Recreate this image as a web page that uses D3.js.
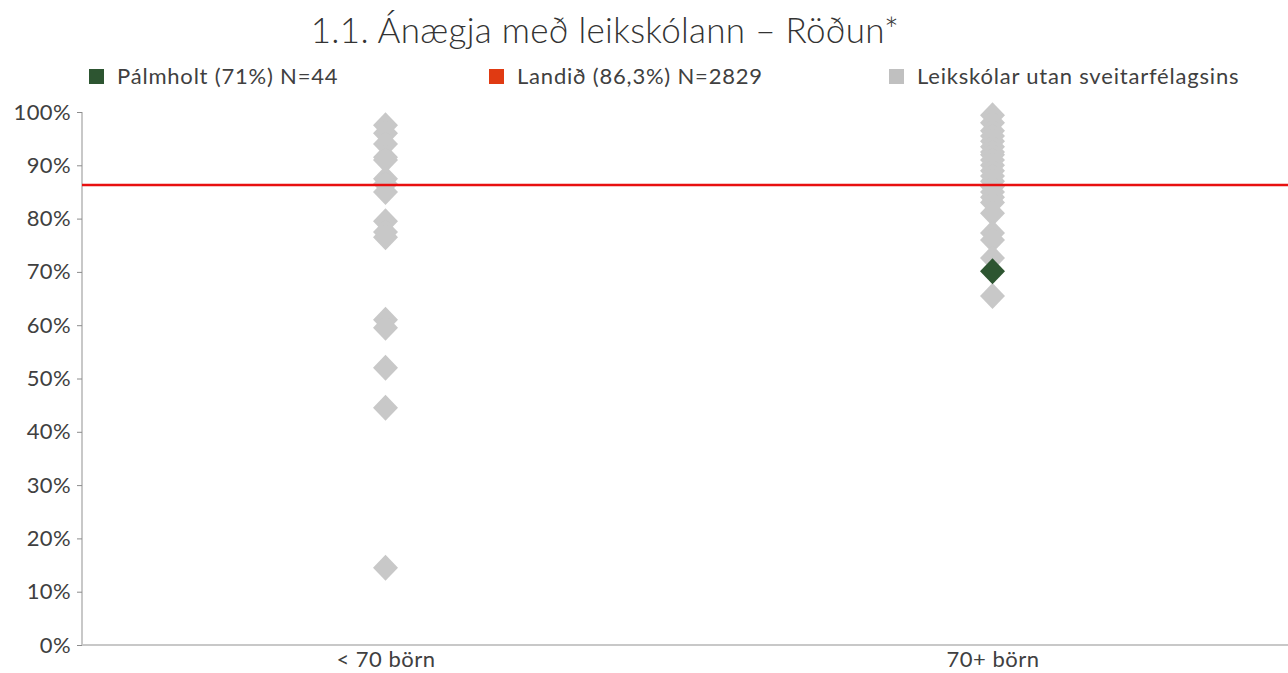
<!DOCTYPE html>
<html><head><meta charset="utf-8">
<script src="https://cdn.jsdelivr.net/npm/d3@7"></script>
<style>
html,body{margin:0;padding:0;background:#fff;}
text{font-family:Lato,"Open Sans",sans-serif;font-weight:400;}
</style></head>
<body><svg id="c" width="1288" height="673"></svg>
<script>
const title = "1.1. Ánægja með leikskólann – Röðun*";
const categories = ["< 70 börn", "70+ börn"];
const yTicks = [0,10,20,30,40,50,60,70,80,90,100];
const otherSmall = [97.5, 96, 94, 91.5, 91, 87.5, 86.5, 85, 79.5, 77.5, 76.5, 61, 59.5, 52, 44.5, 14.5];
const otherLarge = [99.4, 98, 96.5, 95.5, 94.5, 93.5, 92.5, 92, 91, 90, 89, 88, 87, 86, 85, 84, 83, 81, 77.3, 76, 72.6, 65.5];
const palmholt = [{cat: "70+ börn", value: 70.1}];
const landid = 86.3;
const legendItems = ["Pálmholt (71%) N=44", "Landið (86,3%) N=2829", "Leikskólar utan sveitarfélagsins"];
const legendColors = ["#2d5531", "#e03a12", "#c0c0c0"];

const svg = d3.select("#c");
const W = 1288, H = 673;
const mLeft = 82, mRight = 1296, mTop = 112, mBottom = 645;
const FONT = "Lato,'Open Sans',sans-serif";

const x = d3.scalePoint().domain(categories).range([mLeft, mRight]).padding(0.5);
const y = d3.scaleLinear().domain([0, 100]).range([mBottom, mTop]);

svg.append("text").attr("x", 605).attr("y", 43).attr("text-anchor", "middle")
  .attr("font-size", 35).attr("letter-spacing", 0.3).attr("fill", "#333").style("font-weight", 300).text(title);

const lx = [89, 489, 889];
legendItems.forEach((t, i) => {
  svg.append("rect").attr("x", lx[i]).attr("y", 69).attr("width", 15).attr("height", 15).attr("fill", legendColors[i]);
  svg.append("text").attr("x", lx[i] + 28).attr("y", 84).attr("font-size", 22).attr("letter-spacing", 0.8)
    .attr("fill", "#404040").text(t);
});

const ya = svg.append("g").attr("transform", `translate(${mLeft},0)`)
  .call(d3.axisLeft(y).tickValues(yTicks).tickFormat(d => d + "%").tickSize(5).tickPadding(6));
ya.select(".domain").attr("stroke", "#c8c8c8").attr("stroke-width", 2).attr("d", `M0,${mTop}V${mBottom}`);
ya.selectAll(".tick line").attr("stroke", "#8c8c8c");
ya.selectAll(".tick text").attr("font-size", 22).attr("letter-spacing", 0.4).attr("fill", "#404040").attr("font-family", FONT);

const xa = svg.append("g").attr("transform", `translate(0,${mBottom})`)
  .call(d3.axisBottom(x).tickSize(0).tickPadding(9));
xa.select(".domain").attr("stroke", "#c8c8c8").attr("stroke-width", 2).attr("d", `M${mLeft},0H${W}`);
xa.selectAll(".tick text").attr("font-size", 22).attr("letter-spacing", 0.5).attr("fill", "#404040").attr("font-family", FONT).attr("dy", "0.6em");

const dia = "M0,-13L12.5,0L0,13L-12.5,0Z";
const others = otherSmall.map(v => ({cat: categories[0], value: v}))
  .concat(otherLarge.map(v => ({cat: categories[1], value: v})));

svg.append("g").selectAll("path").data(others).join("path")
  .attr("d", dia).attr("fill", "#c8c8c8")
  .attr("transform", d => `translate(${x(d.cat)},${y(d.value)})`);

svg.append("line").attr("x1", mLeft).attr("x2", W).attr("y1", y(landid)).attr("y2", y(landid))
  .attr("stroke", "#e81010").attr("stroke-width", 2.5);

svg.append("g").selectAll("path").data(palmholt).join("path")
  .attr("d", dia).attr("fill", "#2d5531")
  .attr("transform", d => `translate(${x(d.cat)},${y(d.value)})`);
</script></body></html>
